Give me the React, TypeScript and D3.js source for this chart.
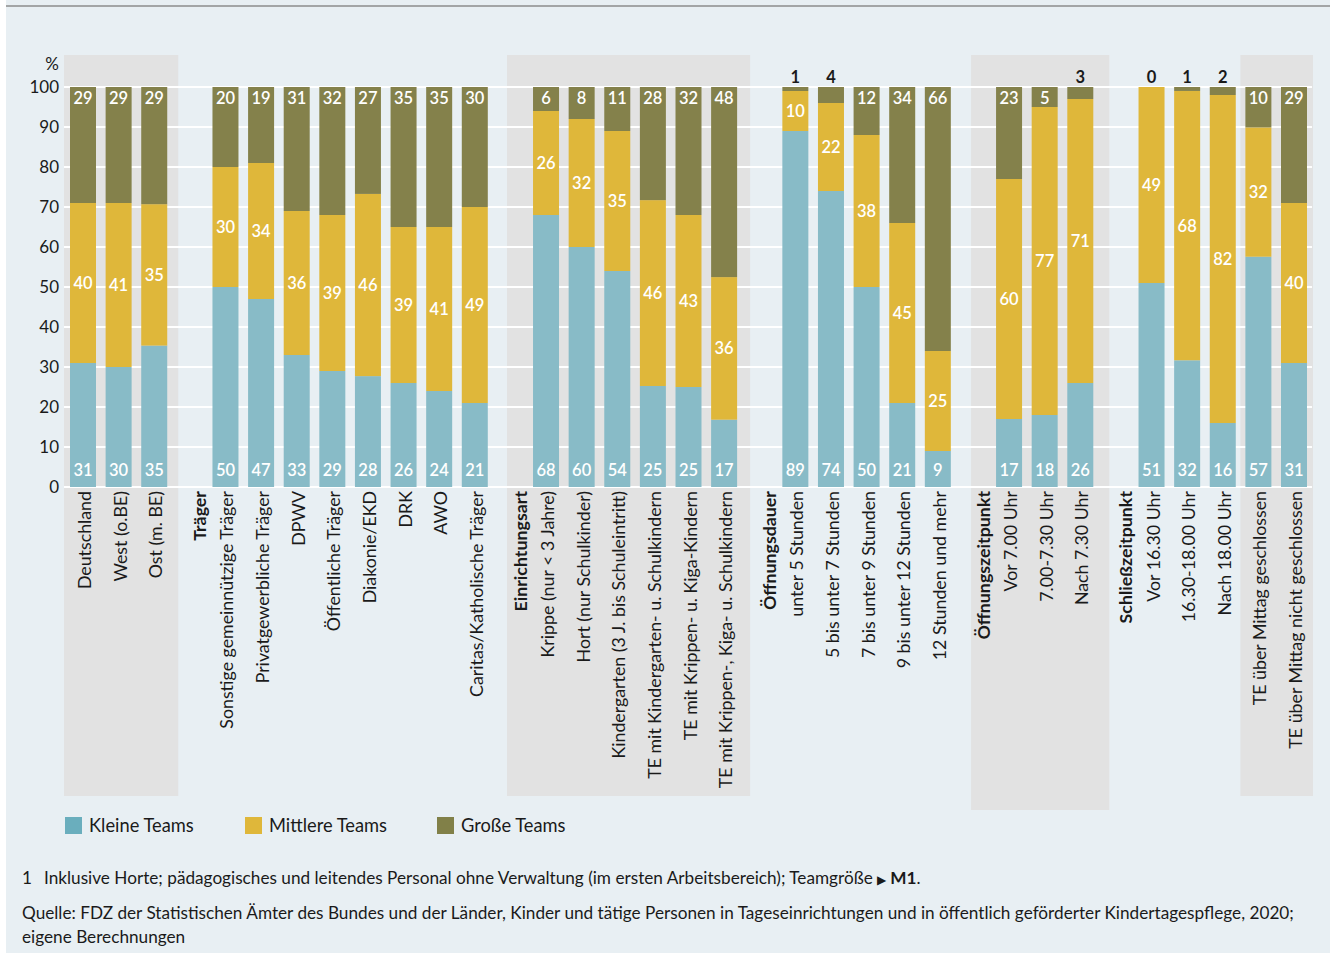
import React from "react";
import * as d3 from "d3";

// ---------- data ----------
const groupHeaders = ["", "Träger", "Einrichtungsart", "Öffnungsdauer", "Öffnungszeitpunkt", "Schließzeitpunkt"];

const categories = [
  "Deutschland", "West (o.BE)", "Ost (m. BE)",
  "Sonstige gemeinnützige Träger", "Privatgewerbliche Träger", "DPWV", "Öffentliche Träger",
  "Diakonie/EKD", "DRK", "AWO", "Caritas/Katholische Träger",
  "Krippe (nur < 3 Jahre)", "Hort (nur Schulkinder)", "Kindergarten (3 J. bis Schuleintritt)",
  "TE mit Kindergarten- u. Schulkindern", "TE mit Krippen- u. Kiga-Kindern", "TE mit Krippen-, Kiga- u. Schulkindern",
  "unter 5 Stunden", "5 bis unter 7 Stunden", "7 bis unter 9 Stunden", "9 bis unter 12 Stunden", "12 Stunden und mehr",
  "Vor 7.00 Uhr", "7.00-7.30 Uhr", "Nach 7.30 Uhr",
  "Vor 16.30 Uhr", "16.30-18.00 Uhr", "Nach 18.00 Uhr",
  "TE über Mittag geschlossen", "TE über Mittag nicht geschlossen",
];

const categoryGroup = [
  0, 0, 0,
  1, 1, 1, 1, 1, 1, 1, 1,
  2, 2, 2, 2, 2, 2,
  3, 3, 3, 3, 3,
  4, 4, 4,
  5, 5, 5, 5, 5,
];

const kleineTeams = [31, 30, 35, 50, 47, 33, 29, 28, 26, 24, 21, 68, 60, 54, 25, 25, 17, 89, 74, 50, 21, 9, 17, 18, 26, 51, 32, 16, 57, 31];
const mittlereTeams = [40, 41, 35, 30, 34, 36, 39, 46, 39, 41, 49, 26, 32, 35, 46, 43, 36, 10, 22, 38, 45, 25, 60, 77, 71, 49, 68, 82, 32, 40];
const grosseTeams = [29, 29, 29, 20, 19, 31, 32, 27, 35, 35, 30, 6, 8, 11, 28, 32, 48, 1, 4, 12, 34, 66, 23, 5, 3, 0, 1, 2, 10, 29];

const yTicks = [0, 10, 20, 30, 40, 50, 60, 70, 80, 90, 100];

const seriesNames = ["Kleine Teams", "Mittlere Teams", "Große Teams"];

const footnote = "Inklusive Horte; pädagogisches und leitendes Personal ohne Verwaltung (im ersten Arbeitsbereich); Teamgröße ";
const sourceLine1 = "Quelle: FDZ der Statistischen Ämter des Bundes und der Länder, Kinder und tätige Personen in Tageseinrichtungen und in öffentlich geförderter Kindertagespflege, 2020;";
const sourceLine2 = "eigene Berechnungen";

// ---------- styles ----------
const COLORS = ["#88bbc7", "#dfb73a", "#84814b"];
const LEGEND_COLORS = ["#6aaebd", "#dfb73a", "#818048"];
const FONT = "'Source Sans Pro', Lato, 'Noto Sans', sans-serif";

const shaded = [
  { from: 0, to: 2, leftPad: 6, rightPad: 11, bottom: 796 },
  { from: 11, to: 16, leftPad: 26, rightPad: 13, bottom: 796 },
  { from: 22, to: 24, leftPad: 25, rightPad: 16, bottom: 810 },
  { from: 28, to: 29, leftPad: 5, rightPad: 6, bottom: 796 },
];

export default function App() {
  const W = 1330, H = 953;
  const gridLeft = 64, gridRight = 1312;
  const y0 = 487, y100 = 87;

  const slots: string[] = [];
  categories.forEach((c, i) => {
    if (i > 0 && categoryGroup[i] !== categoryGroup[i - 1]) slots.push("gap" + i);
    slots.push(c);
  });

  const x = d3.scaleBand<string>().domain(slots).range([70, 1307]).paddingInner(0.27).paddingOuter(0);
  const bw = x.bandwidth();
  const y = d3.scaleLinear().domain([0, 100]).range([y0, y100]);

  const table = categories.map((c, i) => ({ cat: c, k: kleineTeams[i], m: mittlereTeams[i], g: grosseTeams[i] }));
  const stack = d3.stack<any>().keys(["k", "m", "g"]).offset(d3.stackOffsetExpand);
  const series = stack(table);

  const labelFont = 17.8;

  return (
    <div>
      <style>{`body{margin:0;background:#fff}`}</style>
      <svg width={W} height={H} style={{ display: "block", fontFamily: FONT }}>
        <rect x={6} y={0} width={W - 6} height={H} fill="#e8eff3" />
        <line x1={6} x2={W} y1={6} y2={6} stroke="#8c8c8c" strokeWidth={1.5} />

        {shaded.map((s, i) => {
          const x1 = (x(categories[s.from]) as number) - s.leftPad;
          const x2 = (x(categories[s.to]) as number) + bw + s.rightPad;
          return <rect key={i} x={x1} y={55} width={x2 - x1} height={s.bottom - 55} fill="#e2e2e2" />;
        })}

        {yTicks.map((t) => (
          <g key={t}>
            <line x1={gridLeft} x2={gridRight} y1={y(t)} y2={y(t)} stroke="#ffffff" strokeWidth={2} />
            <text x={59} y={y(t)} dy="0.36em" textAnchor="end" fontSize={17} fill="#1a1a1a">{t}</text>
          </g>
        ))}
        <text x={59} y={70} textAnchor="end" fontSize={17} fill="#1a1a1a">%</text>

        {series.map((s, si) => (
          <g key={si} fill={COLORS[si]}>
            {s.map((d, i) => (
              <rect key={i} x={x(categories[i])} width={bw} y={y(d[1] * 100)} height={Math.max(0, y(d[0] * 100) - y(d[1] * 100))} />
            ))}
          </g>
        ))}

        {categories.map((c, i) => {
          const cx = (x(c) as number) + bw / 2;
          const mMid = (series[1][i][0] + series[1][i][1]) / 2 * 100;
          const g = grosseTeams[i];
          return (
            <g key={c} fontSize={16.5} fontWeight={600} textAnchor="middle">
              <text x={cx} y={y0 - 11} fill="#fff">{kleineTeams[i]}</text>
              <text x={cx} y={y(mMid)} dy="0.36em" fill="#fff">{mittlereTeams[i]}</text>
              {g < 5 ? (
                <text x={cx} y={y100 - 4} fill="#1a1a1a" fontWeight={700}>{g}</text>
              ) : (
                <text x={cx} y={y100 + 17} fill="#fff">{g}</text>
              )}
            </g>
          );
        })}

        {categories.map((c, i) => {
          const cx = (x(c) as number) + bw / 2;
          const isFirst = i > 0 && categoryGroup[i] !== categoryGroup[i - 1];
          return (
            <g key={c} transform={`translate(${cx},491) rotate(-90)`} fontSize={labelFont} fill="#1a1a1a">
              <text x={0} y={8} textAnchor="end">{c}</text>
              {isFirst && (
                <text x={0} y={8 - 27.5} textAnchor="end" fontWeight={700}>{groupHeaders[categoryGroup[i]]}</text>
              )}
            </g>
          );
        })}

        {seriesNames.map((n, i) => {
          const lx = [65, 245, 437][i];
          return (
            <g key={n}>
              <rect x={lx} y={817} width={17} height={17} fill={LEGEND_COLORS[i]} />
              <text x={lx + 24} y={832} fontSize={18.3} fill="#1a1a1a">{n}</text>
            </g>
          );
        })}

        <text x={22} y={884} fontSize={17.2} fill="#1a1a1a">1</text>
        <text x={44} y={884} fontSize={17.2} fill="#1a1a1a">
          {footnote}
          <tspan fontSize={12}>▶</tspan>
          <tspan fontWeight={700}> M1</tspan>.
        </text>
        <text x={22} y={919} fontSize={17.2} fill="#1a1a1a">{sourceLine1}</text>
        <text x={22} y={943} fontSize={17.2} fill="#1a1a1a">{sourceLine2}</text>
      </svg>
    </div>
  );
}
